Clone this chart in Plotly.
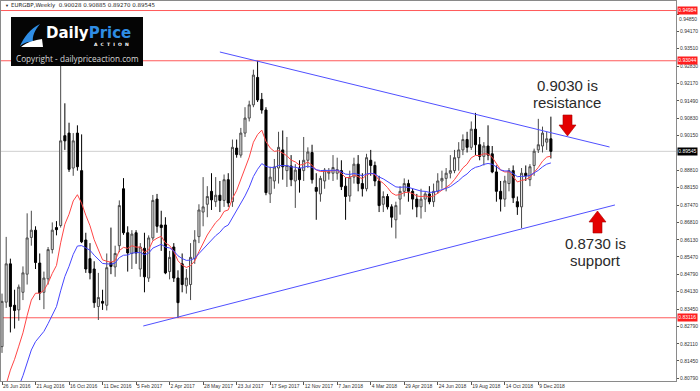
import pandas as pd
import plotly.graph_objects as go

# ---------------- data ----------------
week_start = "2016-06-26"
opens = [0.8200, 0.8372, 0.8520, 0.8360, 0.8342, 0.8410, 0.8480, 0.8622, 0.8650, 0.8523,
         0.8410, 0.8462, 0.8575, 0.8660, 0.8668, 0.9015, 0.9025, 0.8890, 0.9025, 0.8880,
         0.8612, 0.8540, 0.8500, 0.8355, 0.8375, 0.8360, 0.8525, 0.8508, 0.8590, 0.8810,
         0.8640, 0.8560, 0.8640, 0.8500, 0.8580, 0.8465, 0.8620, 0.8770, 0.8670, 0.8670,
         0.8490, 0.8585, 0.8465, 0.8520, 0.8435, 0.8440, 0.8540, 0.8625, 0.8720, 0.8750,
         0.8800, 0.8760, 0.8785, 0.8765, 0.8845, 0.8760, 0.8967, 0.8940, 0.9025, 0.9083,
         0.9134, 0.9240, 0.9155, 0.9114, 0.8790, 0.8840, 0.8890, 0.8960, 0.8880, 0.8898,
         0.8840, 0.8890, 0.8880, 0.8920, 0.8950, 0.8815, 0.8790, 0.8840, 0.8870, 0.8870,
         0.8870, 0.8880, 0.8820, 0.8782, 0.8855, 0.8905, 0.8830, 0.8810, 0.8920, 0.8900,
         0.8840, 0.8750, 0.8780, 0.8740, 0.8690, 0.8770, 0.8800, 0.8830, 0.8800, 0.8770,
         0.8740, 0.8770, 0.8790, 0.8760, 0.8800, 0.8840, 0.8850, 0.8870, 0.8880, 0.8930,
         0.8960, 0.9000, 0.8970, 0.9040, 0.8980, 0.8935, 0.8975, 0.8945, 0.8875, 0.8800,
         0.8770, 0.8830, 0.8880, 0.8760, 0.8740, 0.8870, 0.8845, 0.8900, 0.8960, 0.8975,
         0.8990, 0.90028]
highs = [0.8405, 0.8624, 0.8540, 0.8420, 0.8440, 0.8510, 0.8715, 0.8725, 0.8665, 0.8560,
         0.8490, 0.8585, 0.8680, 0.8685, 0.9415, 0.9140, 0.9065, 0.9025, 0.9055, 0.9020,
         0.8640, 0.8600, 0.8530, 0.8485, 0.8420, 0.8560, 0.8660, 0.8590, 0.8765, 0.8851,
         0.8665, 0.8650, 0.8650, 0.8600, 0.8640, 0.8630, 0.8786, 0.8790, 0.8725, 0.8700,
         0.8570, 0.8600, 0.8495, 0.8560, 0.8500, 0.8600, 0.8650, 0.8750, 0.8855, 0.8820,
         0.8870, 0.8855, 0.8840, 0.8865, 0.8870, 0.9000, 0.9000, 0.9045, 0.9125, 0.9150,
         0.9270, 0.9304, 0.9180, 0.9125, 0.8895, 0.8925, 0.9030, 0.9035, 0.9010, 0.8940,
         0.8905, 0.8920, 0.9010, 0.8970, 0.8980, 0.8870, 0.8860, 0.8890, 0.8890, 0.8940,
         0.8930, 0.8920, 0.8855, 0.8880, 0.8930, 0.8940, 0.8870, 0.8945, 0.8960, 0.8915,
         0.8860, 0.8800, 0.8790, 0.8750, 0.8760, 0.8820, 0.8850, 0.8845, 0.8810, 0.8790,
         0.8810, 0.8800, 0.8820, 0.8830, 0.8870, 0.8880, 0.8890, 0.8940, 0.8960, 0.8990,
         0.9020, 0.9030, 0.9070, 0.9103, 0.9010, 0.8990, 0.9055, 0.8975, 0.8900, 0.8840,
         0.8860, 0.8890, 0.8900, 0.8780, 0.8890, 0.8900, 0.8905, 0.8965, 0.9080, 0.9050,
         0.9030, 0.90885]
lows = [0.8176, 0.8350, 0.8255, 0.8270, 0.8300, 0.8380, 0.8440, 0.8590, 0.8500, 0.8380,
        0.8345, 0.8440, 0.8560, 0.8630, 0.8660, 0.8960, 0.8875, 0.8860, 0.8880, 0.8600,
        0.8485, 0.8460, 0.8350, 0.8303, 0.8342, 0.8340, 0.8480, 0.8470, 0.8565, 0.8632,
        0.8490, 0.8500, 0.8520, 0.8470, 0.8410, 0.8450, 0.8610, 0.8640, 0.8570, 0.8480,
        0.8460, 0.8450, 0.8312, 0.8410, 0.8405, 0.8380, 0.8520, 0.8600, 0.8665, 0.8700,
        0.8728, 0.8740, 0.8720, 0.8740, 0.8740, 0.8740, 0.8930, 0.8930, 0.9010, 0.9070,
        0.9125, 0.9145, 0.9100, 0.8785, 0.8755, 0.8810, 0.8830, 0.8845, 0.8817, 0.8820,
        0.8736, 0.8795, 0.8840, 0.8890, 0.8830, 0.8690, 0.8760, 0.8810, 0.8845, 0.8840,
        0.8845, 0.8805, 0.8690, 0.8760, 0.8830, 0.8800, 0.8780, 0.8800, 0.8860, 0.8820,
        0.8720, 0.8720, 0.8730, 0.8660, 0.8618, 0.8710, 0.8780, 0.8760, 0.8730, 0.8700,
        0.8695, 0.8720, 0.8750, 0.8740, 0.8790, 0.8810, 0.8800, 0.8850, 0.8870, 0.8880,
        0.8940, 0.8950, 0.8960, 0.8940, 0.8920, 0.8900, 0.8920, 0.8870, 0.8760, 0.8722,
        0.8740, 0.8800, 0.8755, 0.8709, 0.8658, 0.8840, 0.8820, 0.8860, 0.8948, 0.8950,
        0.8960, 0.89270]
closes = [0.8375, 0.8520, 0.8355, 0.8340, 0.8430, 0.8485, 0.8620, 0.8650, 0.8525, 0.8407,
          0.8465, 0.8575, 0.8650, 0.8652, 0.8995, 0.8995, 0.8885, 0.8995, 0.8895, 0.8605,
          0.8500, 0.8485, 0.8370, 0.8390, 0.8368, 0.8505, 0.8510, 0.8560, 0.8745, 0.8640,
          0.8562, 0.8635, 0.8562, 0.8585, 0.8470, 0.8620, 0.8765, 0.8665, 0.8660, 0.8485,
          0.8545, 0.8465, 0.8370, 0.8440, 0.8465, 0.8545, 0.8612, 0.8728, 0.8740, 0.8780,
          0.8767, 0.8785, 0.8765, 0.8845, 0.8755, 0.8970, 0.8942, 0.9025, 0.9083, 0.9134,
          0.9249, 0.9153, 0.9114, 0.8795, 0.8855, 0.8894, 0.8970, 0.8895, 0.8900, 0.8845,
          0.8882, 0.8845, 0.8920, 0.8952, 0.8845, 0.8800, 0.8850, 0.8882, 0.8876, 0.8892,
          0.8884, 0.8818, 0.8780, 0.8855, 0.8905, 0.8830, 0.8810, 0.8930, 0.8900, 0.8840,
          0.8745, 0.8780, 0.8740, 0.8700, 0.8745, 0.8800, 0.8830, 0.8800, 0.8770, 0.8740,
          0.8770, 0.8790, 0.8760, 0.8800, 0.8840, 0.8850, 0.8870, 0.8880, 0.8930, 0.8960,
          0.9000, 0.8970, 0.9040, 0.8980, 0.8935, 0.8975, 0.8940, 0.8875, 0.8800, 0.8770,
          0.8840, 0.8880, 0.8775, 0.8740, 0.8870, 0.8860, 0.8895, 0.8955, 0.8980, 0.9025,
          0.9003, 0.89545]
# weekly closes before the first visible bar (seed the moving averages)
prior_closes = [0.7760, 0.7790, 0.7730, 0.7780, 0.7870, 0.7770, 0.7880, 0.8123]
fast_period = 10   # red moving average
slow_period = 20   # blue moving average

price_ticks = [0.94850, 0.94170, 0.93510, 0.92830, 0.92170, 0.91490, 0.90830, 0.90150,
               0.88810, 0.88150, 0.87470, 0.86810, 0.86130, 0.85470, 0.84790,
               0.84130, 0.83450, 0.82790, 0.82110, 0.81450, 0.80790]
red_levels = [0.94984, 0.93044, 0.83116]
title_text = "EURGBP,Weekly  0.90028 0.90885 0.89270 0.89545"

res_line_dates = ["2017-06-25", "2019-04-07"]
res_line_vals = [0.93382, 0.89713]
sup_line_dates = ["2017-02-17", "2019-04-16"]
sup_line_vals = [0.82799, 0.87473]

res_label = ["0.9030 is", "resistance"]
sup_label = ["0.8730 is", "support"]

# ---------------- derived ----------------
dates = pd.date_range(week_start, periods=len(opens), freq="7D")
all_close = pd.Series(prior_closes + closes)
n0 = len(prior_closes)
ma_fast = all_close.ewm(span=fast_period, adjust=False).mean().iloc[n0:].values
ma_slow = all_close.ewm(span=slow_period, adjust=False).mean().iloc[n0:].values

tick_dates = list(dates[::8])
tick_labels = [f"{d.day} {d.strftime('%b %Y')}" for d in tick_dates]

W, H = 700, 391
L, R, T, B = 1, 24, 1, 10
PW, PH = W - L - R, H - T - B


def px(x):
    return (x - L) / PW


def py(y):
    return (H - B - y) / PH


def path(points):
    s = "M " + " L ".join(f"{px(a):.5f},{py(b):.5f}" for a, b in points) + " Z"
    return s


base = pd.Timestamp(week_start)
x_start = base + pd.Timedelta(days=-0.24 * 7)
x_end = base + pd.Timedelta(days=160.86 * 7)

fig = go.Figure()
fig.add_trace(go.Candlestick(
    x=dates, open=opens, high=highs, low=lows, close=closes,
    increasing=dict(fillcolor="#e4e4e4", line=dict(color="#4a4a4a", width=1)),
    decreasing=dict(fillcolor="#000000", line=dict(color="#000000", width=1)),
    whiskerwidth=0, hoverinfo="skip", name="EURGBP"))
fig.add_trace(go.Scatter(x=dates, y=ma_fast, mode="lines",
                         line=dict(color="rgb(255,70,70)", width=1), hoverinfo="skip"))
fig.add_trace(go.Scatter(x=dates, y=ma_slow, mode="lines",
                         line=dict(color="rgb(70,70,255)", width=1), hoverinfo="skip"))

shapes = []
for lv in red_levels:
    shapes.append(dict(type="line", xref="paper", x0=0, x1=1, yref="y", y0=lv, y1=lv,
                       line=dict(color="rgb(255,90,90)", width=1), layer="below"))
shapes.append(dict(type="line", xref="paper", x0=0, x1=1, yref="y", y0=closes[-1], y1=closes[-1],
                   line=dict(color="#cfcfcf", width=1), layer="below"))
shapes.append(dict(type="line", xref="x", yref="y", x0=res_line_dates[0], x1=res_line_dates[1],
                   y0=res_line_vals[0], y1=res_line_vals[1], line=dict(color="rgb(80,80,255)", width=1)))
shapes.append(dict(type="line", xref="x", yref="y", x0=sup_line_dates[0], x1=sup_line_dates[1],
                   y0=sup_line_vals[0], y1=sup_line_vals[1], line=dict(color="rgb(80,80,255)", width=1)))

# arrows
red = "rgb(228,0,0)"
shapes.append(dict(type="path", xref="paper", yref="paper", fillcolor=red,
                   line=dict(color="rgb(170,0,0)", width=0.6),
                   path=path([(563, 115), (572, 115), (572, 125), (576, 125), (567.5, 136),
                              (559, 125), (563, 125)])))
shapes.append(dict(type="path", xref="paper", yref="paper", fillcolor=red,
                   line=dict(color="rgb(170,0,0)", width=0.6),
                   path=path([(593, 233), (602, 233), (602, 222), (606, 222), (597.5, 211),
                              (589, 222), (593, 222)])))

# logo
shapes.append(dict(type="rect", xref="paper", yref="paper", x0=px(11), x1=px(143),
                   y0=py(66), y1=py(17), fillcolor="#050505", line=dict(width=0), layer="above"))
shapes.append(dict(type="path", xref="paper", yref="paper", fillcolor="#2f8de4", line=dict(width=0),
                   path=f"M {px(20)},{py(46)} C {px(24)},{py(37)} {px(30)},{py(29)} {px(40)},{py(24)} "
                        f"C {px(35)},{py(30)} {px(32)},{py(36)} {px(33)},{py(42)} "
                        f"C {px(28)},{py(41)} {px(24)},{py(43)} {px(20)},{py(46)} Z"))
shapes.append(dict(type="path", xref="paper", yref="paper", fillcolor="#ffffff", line=dict(width=0),
                   path=f"M {px(21)},{py(47)} C {px(27)},{py(42)} {px(35)},{py(40)} {px(42)},{py(39)} "
                        f"L {px(43)},{py(47)} Z"))

annotations = []
annotations.append(dict(xref="paper", yref="paper", x=px(3), y=py(5), xanchor="left", yanchor="middle",
                        text="▼", showarrow=False, font=dict(size=4, color="#222")))
annotations.append(dict(xref="paper", yref="paper", x=px(9), y=py(5), xanchor="left", yanchor="middle",
                        text=title_text, showarrow=False,
                        font=dict(size=5.5, color="#222", family="DejaVu Sans")))
annotations.append(dict(xref="paper", yref="paper", x=px(44), y=py(33), xanchor="left", yanchor="middle",
                        text="<b>Daily<span style='color:#2f8de4'>Price</span></b>", showarrow=False,
                        font=dict(size=15, color="white", family="DejaVu Sans")))
annotations.append(dict(xref="paper", yref="paper", x=px(111), y=py(44.5), xanchor="center",
                        yanchor="middle", text="<b>A\u00a0\u00a0C\u00a0\u00a0T\u00a0\u00a0I\u00a0\u00a0O\u00a0\u00a0N</b>",
                        showarrow=False, font=dict(size=4.5, color="white", family="DejaVu Sans")))
annotations.append(dict(xref="paper", yref="paper", x=px(77), y=py(58.5), xanchor="center",
                        yanchor="middle", text="Copyright - dailypriceaction.com", showarrow=False,
                        font=dict(size=8.2, color="#d8d8d8", family="Open Sans")))

txt_font = dict(size=15, color="#2a2a2a", family="Liberation Sans")
for t, yy in zip(res_label, [85, 102]):
    annotations.append(dict(xref="paper", yref="paper", x=px(567), y=py(yy), xanchor="center",
                            yanchor="middle", text=t, showarrow=False, font=txt_font))
for t, yy in zip(sup_label, [243, 260]):
    annotations.append(dict(xref="paper", yref="paper", x=px(595), y=py(yy), xanchor="center",
                            yanchor="middle", text=t, showarrow=False, font=txt_font))

axis_font = dict(size=5, color="#333", family="Liberation Sans")

# top price tick drawn as its own label, nudged just below the red price box
top_tick = price_ticks[0]
tick_text = [("" if v == top_tick else f"{v:.5f}") for v in price_ticks]
annotations.append(dict(xref="paper", yref="y", x=1, y=top_tick, xanchor="left", yanchor="top",
                        xshift=2, yshift=-0.5, text=f"{top_tick:.5f}", showarrow=False,
                        borderpad=0, font=axis_font))

# price boxes on the right axis
box_font = dict(size=5, color="white", family="Liberation Sans")
for lv in red_levels:
    annotations.append(dict(xref="paper", yref="y", x=1, y=lv, xanchor="left", yanchor="middle",
                            xshift=1, text=f"{lv:.5f}", showarrow=False, bgcolor="rgb(255,30,30)",
                            borderpad=0.3, font=box_font))
annotations.append(dict(xref="paper", yref="y", x=1, y=closes[-1], xanchor="left", yanchor="middle",
                        xshift=1, text=f"{closes[-1]:.5f}", showarrow=False, bgcolor="black",
                        borderpad=0.3, font=box_font))

fig.update_layout(
    width=W, height=H, margin=dict(l=L, r=R, t=T, b=B),
    paper_bgcolor="white", plot_bgcolor="white", showlegend=False, hovermode=False,
    shapes=shapes, annotations=annotations,
    xaxis=dict(type="date", range=[x_start, x_end], tickvals=tick_dates, ticktext=tick_labels,
               tickangle=0, tickfont=axis_font, ticks="outside",
               ticklen=3, tickcolor="#555", showgrid=False, zeroline=False, showline=True,
               linecolor="#8a8a8a", linewidth=1, mirror=True, rangeslider=dict(visible=False),
               ticklabelposition="outside right"),
    yaxis=dict(side="right", range=[0.80674, 0.95352], tickvals=price_ticks,
               ticktext=tick_text,
               tickfont=axis_font, ticks="outside",
               ticklen=2, tickcolor="#555", showgrid=False, zeroline=False, showline=True,
               linecolor="#8a8a8a", linewidth=1, mirror=True),
)

fig.write_html("out.html")
